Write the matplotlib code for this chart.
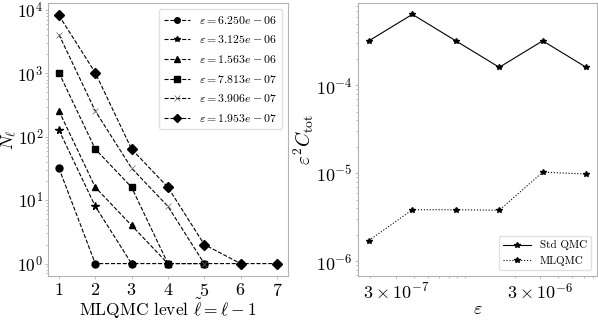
import numpy as np
import matplotlib
matplotlib.use("Agg")
import matplotlib.pyplot as plt

plt.rcParams['font.family'] = 'serif'
plt.rcParams['font.serif'] = ['cmr10']
plt.rcParams['mathtext.fontset'] = 'cm'
plt.rcParams['axes.formatter.use_mathtext'] = True

# number of samples per level, one list per tolerance
eps_values = [6.25e-6, 3.125e-6, 1.5625e-6, 7.8125e-7, 3.90625e-7, 1.953125e-7]
samples = [
    [32, 1, 1, 1, 1],
    [128, 8, 1],
    [256, 16, 4, 1],
    [1024, 64, 16, 1, 1],
    [4096, 256, 32, 8, 1, 1],
    [8192, 1024, 64, 16, 2, 1, 1],
]
markers = ['o', '*', '^', 's', 'x', 'D']

# total cost vs tolerance (ascending eps)
eps_sorted = [1.953125e-7, 3.90625e-7, 7.8125e-7, 1.5625e-6, 3.125e-6, 6.25e-6]
cost_std = [3.2e-4, 6.4e-4, 3.2e-4, 1.6e-4, 3.2e-4, 1.6e-4]
cost_ml = [1.72e-6, 3.85e-6, 3.85e-6, 3.8e-6, 1.03e-5, 9.8e-6]
eps_ticks = [3e-7, 3e-6]
eps_ticklabels = [r'$3\times10^{-7}$', r'$3\times10^{-6}$']

fig = plt.figure(figsize=(5.98, 3.2), dpi=100)
ax1 = fig.add_axes([0.0803, 0.1375, 0.401, 0.853])
ax2 = fig.add_axes([0.5987, 0.1375, 0.3997, 0.853])

for ax in (ax1, ax2):
    for s in ax.spines.values():
        s.set_color('0.7')
        s.set_linewidth(0.8)
    ax.tick_params(which='both', color='0.7', labelsize=13, length=2, width=0.6, pad=2)
    ax.tick_params(which='minor', length=1.5)
ax1.tick_params(axis='y', labelsize=12.5, pad=1.5)

for eps, n, m in zip(eps_values, samples, markers):
    lev = np.arange(1, len(n) + 1)
    if m == 'x':
        ax1.plot(lev, n, '--', color='k', lw=0.8, marker=m, ms=5, mew=0.5,
                 mec='0.4', label=r'$\varepsilon = %.3e$' % eps)
    else:
        ax1.plot(lev, n, '--', color='k', lw=0.8, marker=m,
                 ms=5.5 if m == '*' else 5, label=r'$\varepsilon = %.3e$' % eps)
ax1.set_yscale('log')
ax1.set_xticks(range(1, 8))
ax1.set_ylabel(r'$N_\ell$', fontsize=12.5)
ax1.yaxis.set_label_coords(-0.122, 0.5)
ax1.set_xlabel(r'MLQMC level $\tilde{\ell} = \ell - 1$', fontsize=12.5, labelpad=-1)
ax1.legend(loc='upper right', fontsize=8.5, edgecolor='0.85', handlelength=2.2,
           labelspacing=0.65, markerscale=0.8)

ax2.plot(eps_sorted, cost_std, '-', color='k', lw=0.8, marker='*', ms=3.8,
         label='Std QMC')
ax2.plot(eps_sorted, cost_ml, ':', color='k', lw=0.8, marker='*', ms=3.8,
         label='MLQMC')
ax2.set_xscale('log')
ax2.set_yscale('log')
ax2.set_ylim(6.8e-7, 8.6e-4)
ax2.set_xticks(eps_ticks, labels=eps_ticklabels)
ax2.xaxis.set_minor_formatter(matplotlib.ticker.NullFormatter())
ax2.set_ylabel(r'$\varepsilon^2 C_{\rm tot}$', fontsize=14, labelpad=0)
ax2.set_xlabel(r'$\varepsilon$', fontsize=13, labelpad=0)
ax2.legend(loc='lower right', fontsize=8, edgecolor='0.85', handlelength=2.5)

fig.savefig('out.png', dpi=100)
